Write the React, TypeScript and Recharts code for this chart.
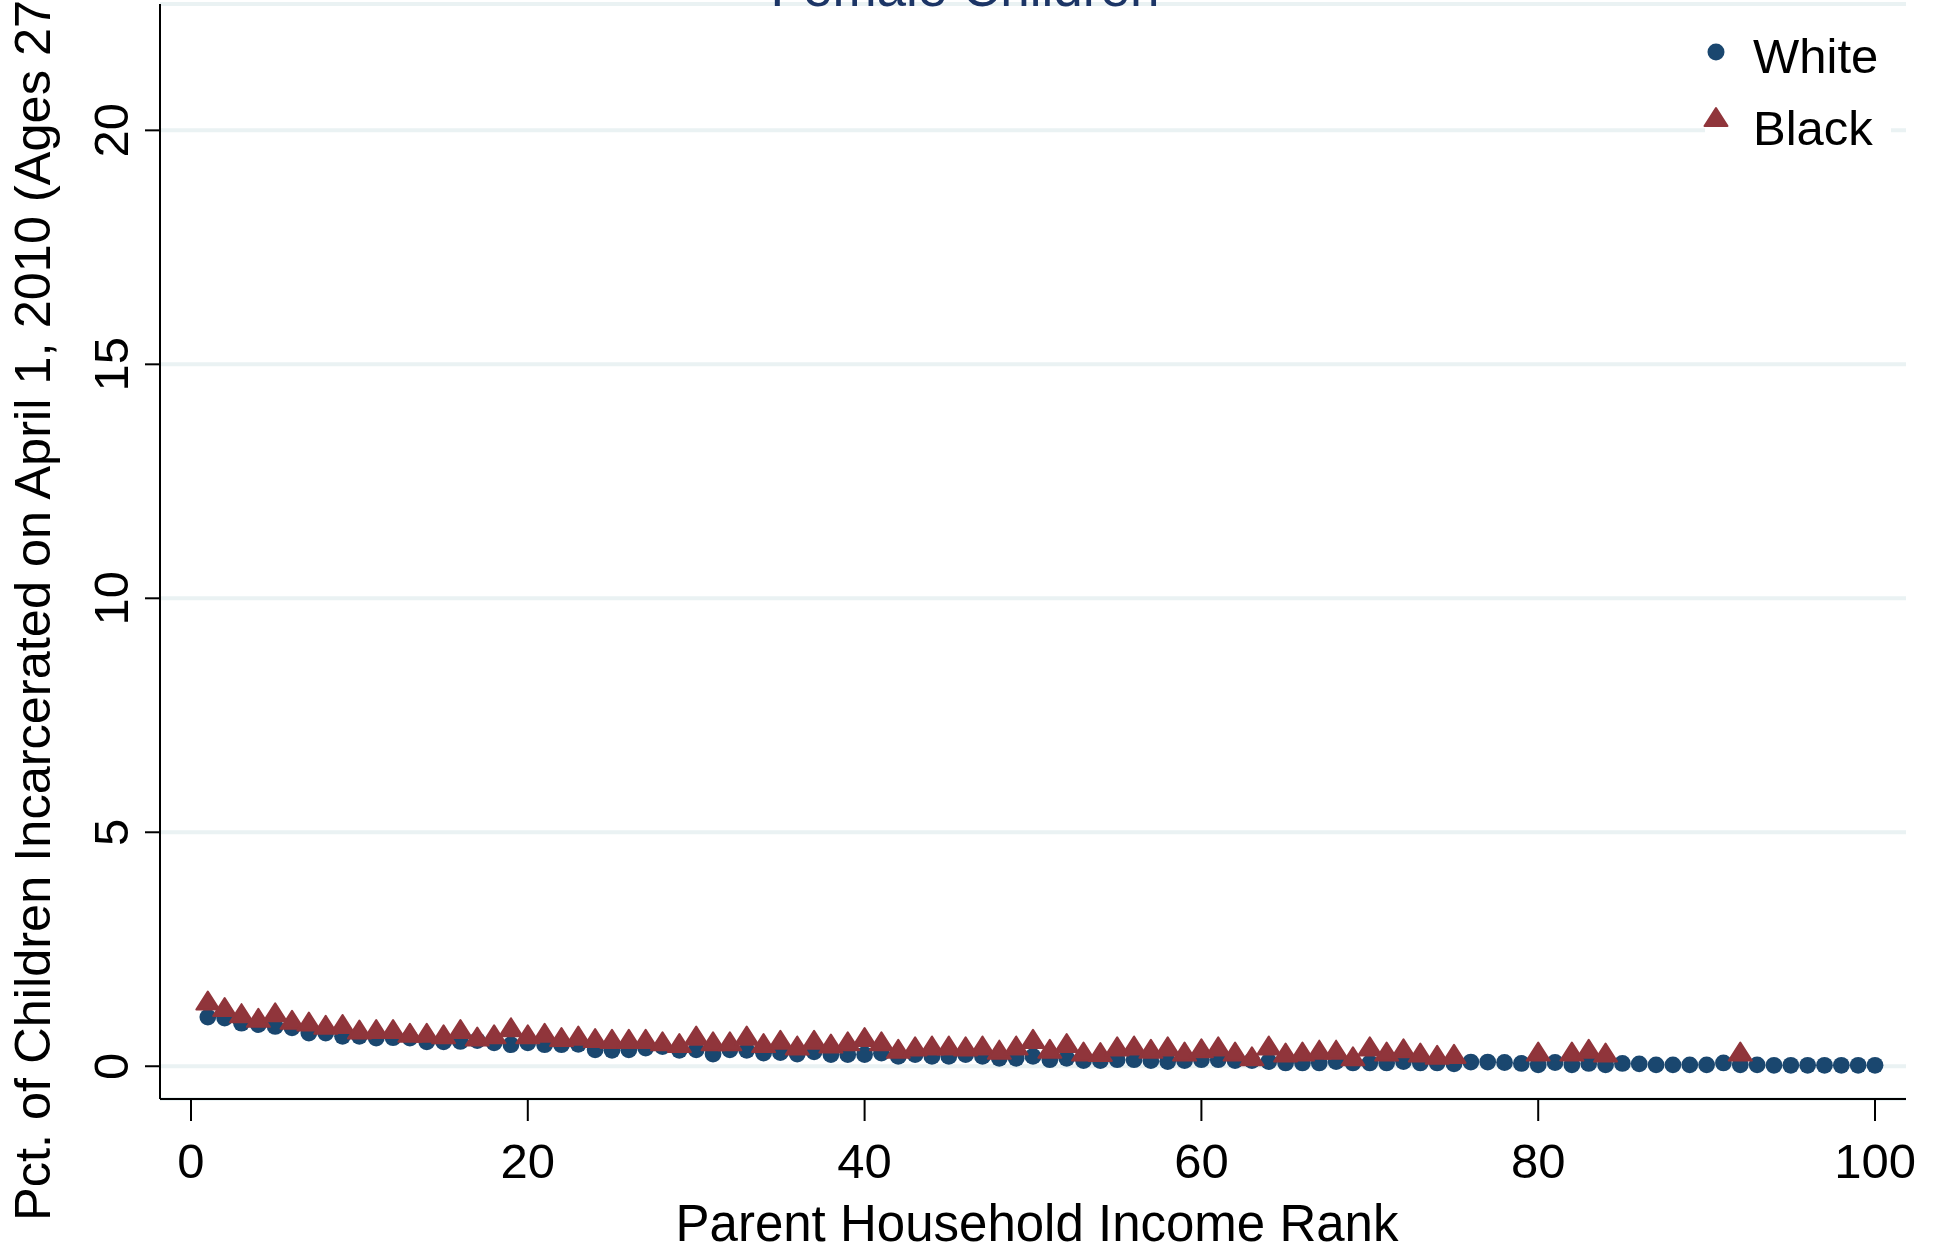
import { ScatterChart, Scatter, XAxis, YAxis, CartesianGrid, Customized } from 'recharts'

const WHITE_C = '#1a476f'
const BLACK_C = '#90353b'
const FONT = '"Liberation Sans", Arial, sans-serif'

const whiteRank = [
  1, 2, 3, 4, 5, 6, 7, 8, 9, 10, 11, 12, 13, 14, 15, 16, 17, 18, 19, 20,
  21, 22, 23, 24, 25, 26, 27, 28, 29, 30, 31, 32, 33, 34, 35, 36, 37, 38, 39, 40,
  41, 42, 43, 44, 45, 46, 47, 48, 49, 50, 51, 52, 53, 54, 55, 56, 57, 58, 59, 60,
  61, 62, 63, 64, 65, 66, 67, 68, 69, 70, 71, 72, 73, 74, 75, 76, 77, 78, 79, 80,
  81, 82, 83, 84, 85, 86, 87, 88, 89, 90, 91, 92, 93, 94, 95, 96, 97, 98, 99, 100,
]
const whitePct = [
  1.05, 1.03, 0.92, 0.89, 0.85, 0.82, 0.71, 0.71, 0.64, 0.64, 0.6, 0.61, 0.6, 0.52, 0.52, 0.53, 0.55, 0.5, 0.46, 0.5,
  0.46, 0.46, 0.47, 0.35, 0.34, 0.35, 0.39, 0.42, 0.34, 0.35, 0.26, 0.35, 0.34, 0.28, 0.29, 0.26, 0.31, 0.25, 0.25, 0.25,
  0.28, 0.21, 0.25, 0.21, 0.21, 0.25, 0.21, 0.17, 0.17, 0.21, 0.14, 0.17, 0.12, 0.12, 0.14, 0.14, 0.12, 0.1, 0.12, 0.14,
  0.14, 0.12, 0.12, 0.1, 0.07, 0.07, 0.07, 0.1, 0.07, 0.07, 0.07, 0.1, 0.07, 0.07, 0.05, 0.09, 0.09, 0.08, 0.06, 0.03,
  0.08, 0.03, 0.06, 0.03, 0.06, 0.05, 0.03, 0.03, 0.03, 0.03, 0.07, 0.03, 0.03, 0.02, 0.02, 0.02, 0.02, 0.02, 0.02, 0.02,
]

const blackRank = [
  1, 2, 3, 4, 5, 6, 7, 8, 9, 10, 11, 12, 13, 14, 15, 16, 17, 18, 19, 20,
  21, 22, 23, 24, 25, 26, 27, 28, 29, 30, 31, 32, 33, 34, 35, 36, 37, 38, 39, 40,
  41, 42, 43, 44, 45, 46, 47, 48, 49, 50, 51, 52, 53, 54, 55, 56, 57, 58, 59, 60,
  61, 62, 63, 64, 65, 66, 67, 68, 69, 70, 71, 72, 73, 74, 75, 80, 82, 83, 84, 92,
]
const blackPct = [
  1.34, 1.2, 1.07, 0.97, 1.09, 0.93, 0.89, 0.82, 0.84, 0.72, 0.73, 0.73, 0.65, 0.65, 0.62, 0.73, 0.57, 0.62, 0.77, 0.62,
  0.65, 0.56, 0.59, 0.54, 0.52, 0.52, 0.52, 0.47, 0.43, 0.59, 0.47, 0.47, 0.59, 0.43, 0.5, 0.38, 0.5, 0.42, 0.47, 0.56,
  0.47, 0.31, 0.36, 0.38, 0.38, 0.36, 0.38, 0.29, 0.38, 0.52, 0.31, 0.43, 0.25, 0.24, 0.36, 0.38, 0.31, 0.36, 0.25, 0.32,
  0.36, 0.25, 0.15, 0.38, 0.23, 0.25, 0.29, 0.29, 0.15, 0.36, 0.25, 0.32, 0.23, 0.18, 0.2, 0.25, 0.25, 0.31, 0.23, 0.25,
]

const xTicks = [0, 20, 40, 60, 80, 100]
const yTicks = [0, 5, 10, 15, 20]

const whiteData = whiteRank.map((x, i) => ({ x, y: whitePct[i] }))
const blackData = blackRank.map((x, i) => ({ x, y: blackPct[i] }))

const triPath = (cx: number, cy: number) =>
  `M${cx},${cy - 12} L${cx + 11.5},${cy + 6} L${cx - 11.5},${cy + 6} Z`

const Dot = (p: any) => <circle cx={p.cx} cy={p.cy} r={8.4} fill={WHITE_C} />
const Tri = (p: any) => (
  <path d={triPath(p.cx, p.cy)} fill={BLACK_C} stroke={BLACK_C} strokeWidth={2} strokeLinejoin="round" />
)

const XTick = ({ x, y, payload }: any) => (
  <text x={x} y={y + 55} textAnchor="middle" fontSize={49} fontFamily={FONT} fill="#000">
    {payload.value}
  </text>
)

const YTick = ({ x, y, payload }: any) => (
  <text x={x} y={y} transform={`rotate(-90 ${x} ${y})`} textAnchor="middle" fontSize={49} fontFamily={FONT} fill="#000">
    {payload.value}
  </text>
)

const Extras = () => (
  <g fontFamily={FONT}>
    <text x={965} y={6} textAnchor="middle" fontSize={53} fill="#1c3566">Female Children</text>
    <text transform="translate(50,1221) rotate(-90)" textAnchor="start" fontSize={50.5} fill="#000">
      Pct. of Children Incarcerated on April 1, 2010 (Ages 27-32)
    </text>
    <text x={1037} y={1241} textAnchor="middle" fontSize={51} fill="#000">Parent Household Income Rank</text>
    <rect x={1705} y={15} width={186} height={155} fill="#fff" />
    <circle cx={1716} cy={52} r={8.5} fill={WHITE_C} />
    <path d={triPath(1716, 120)} fill={BLACK_C} stroke={BLACK_C} strokeWidth={2} strokeLinejoin="round" />
    <text x={1753} y={73} fontSize={49} fill="#000">White</text>
    <text x={1753} y={145} fontSize={49} fill="#000">Black</text>
  </g>
)

export default function App() {
  return (
    <div style={{ position: 'absolute', left: 0, top: 0, background: '#fff' }}>
      <ScatterChart width={1934} height={1251} margin={{ top: 4, right: 28, bottom: 0, left: 0 }}>
        <CartesianGrid horizontal vertical={false} stroke="#eaf2f3" strokeWidth={4} />
        <XAxis
          type="number"
          dataKey="x"
          domain={[-1.84, 101.84]}
          ticks={xTicks}
          allowDataOverflow
          height={152}
          tickSize={22}
          tickMargin={2}
          axisLine={{ stroke: '#000', strokeWidth: 2 }}
          tickLine={{ stroke: '#000', strokeWidth: 2 }}
          tick={<XTick />}
        />
        <YAxis
          type="number"
          dataKey="y"
          domain={[-0.7, 22.7]}
          ticks={yTicks}
          allowDataOverflow
          width={160}
          tickSize={15}
          tickMargin={17}
          axisLine={{ stroke: '#000', strokeWidth: 2 }}
          tickLine={{ stroke: '#000', strokeWidth: 2 }}
          tick={<YTick />}
        />
        <Scatter data={whiteData} shape={Dot} isAnimationActive={false} />
        <Scatter data={blackData} shape={Tri} isAnimationActive={false} />
        <Customized component={Extras} />
      </ScatterChart>
    </div>
  )
}
